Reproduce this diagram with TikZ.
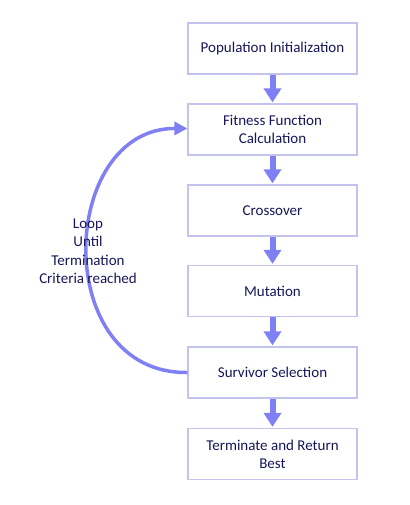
\documentclass[tikz,border=0pt]{standalone}
\usepackage{fontspec}
\setmainfont{Carlito}
\usetikzlibrary{arrows.meta}
\definecolor{arrowc}{RGB}{128,128,245}
\definecolor{boxc}{RGB}{195,195,238}
\definecolor{textc}{RGB}{22,22,90}
\tikzset{
  stepbox/.style={draw=boxc, line width=1.2pt, minimum width=169pt, minimum height=51pt,
    inner sep=0pt, align=center, text=textc, font=\fontsize{15pt}{18pt}\selectfont, fill=white},
  flowarrow/.style={draw=arrowc, line width=6pt, -{Triangle[length=14pt,width=17pt]}, shorten >=1pt},
  looparrow/.style={draw=arrowc, line width=3.5pt, -{Triangle[length=13pt,width=13pt]}}
}
\begin{document}
\begin{tikzpicture}[x=1pt,y=-1pt]
\useasboundingbox (0,0) rectangle (409,505);
\node[stepbox] (pop) at (272.5,48.5) {Population Initialization};
\node[stepbox] (fit) at (272.5,129.5) {Fitness Function\\Calculation};
\node[stepbox] (cross) at (272.5,210.5) {Crossover};
\node[stepbox] (mut) at (272.5,291) {Mutation};
\node[stepbox] (surv) at (272.5,372.5) {Survivor Selection};
\node[stepbox] (term) at (272.5,454) {Terminate and Return\\Best};
\draw[flowarrow] (pop.south) -- (fit.north);
\draw[flowarrow] (fit.south) -- (cross.north);
\draw[flowarrow] (cross.south) -- (mut.north);
\draw[flowarrow] (mut.south) -- (surv.north);
\draw[flowarrow] (surv.south) -- (term.north);
\coordinate (loopend) at ([yshift=1pt]fit.west);
\draw[looparrow] (surv.west) .. controls (50,374) and (58,128) .. (loopend);
\node[align=center, text=textc, font=\fontsize{15pt}{18.5pt}\selectfont] (lbl) at (88,251)
  {Loop\\Until\\Termination\\Criteria reached};
\end{tikzpicture}
\end{document}
